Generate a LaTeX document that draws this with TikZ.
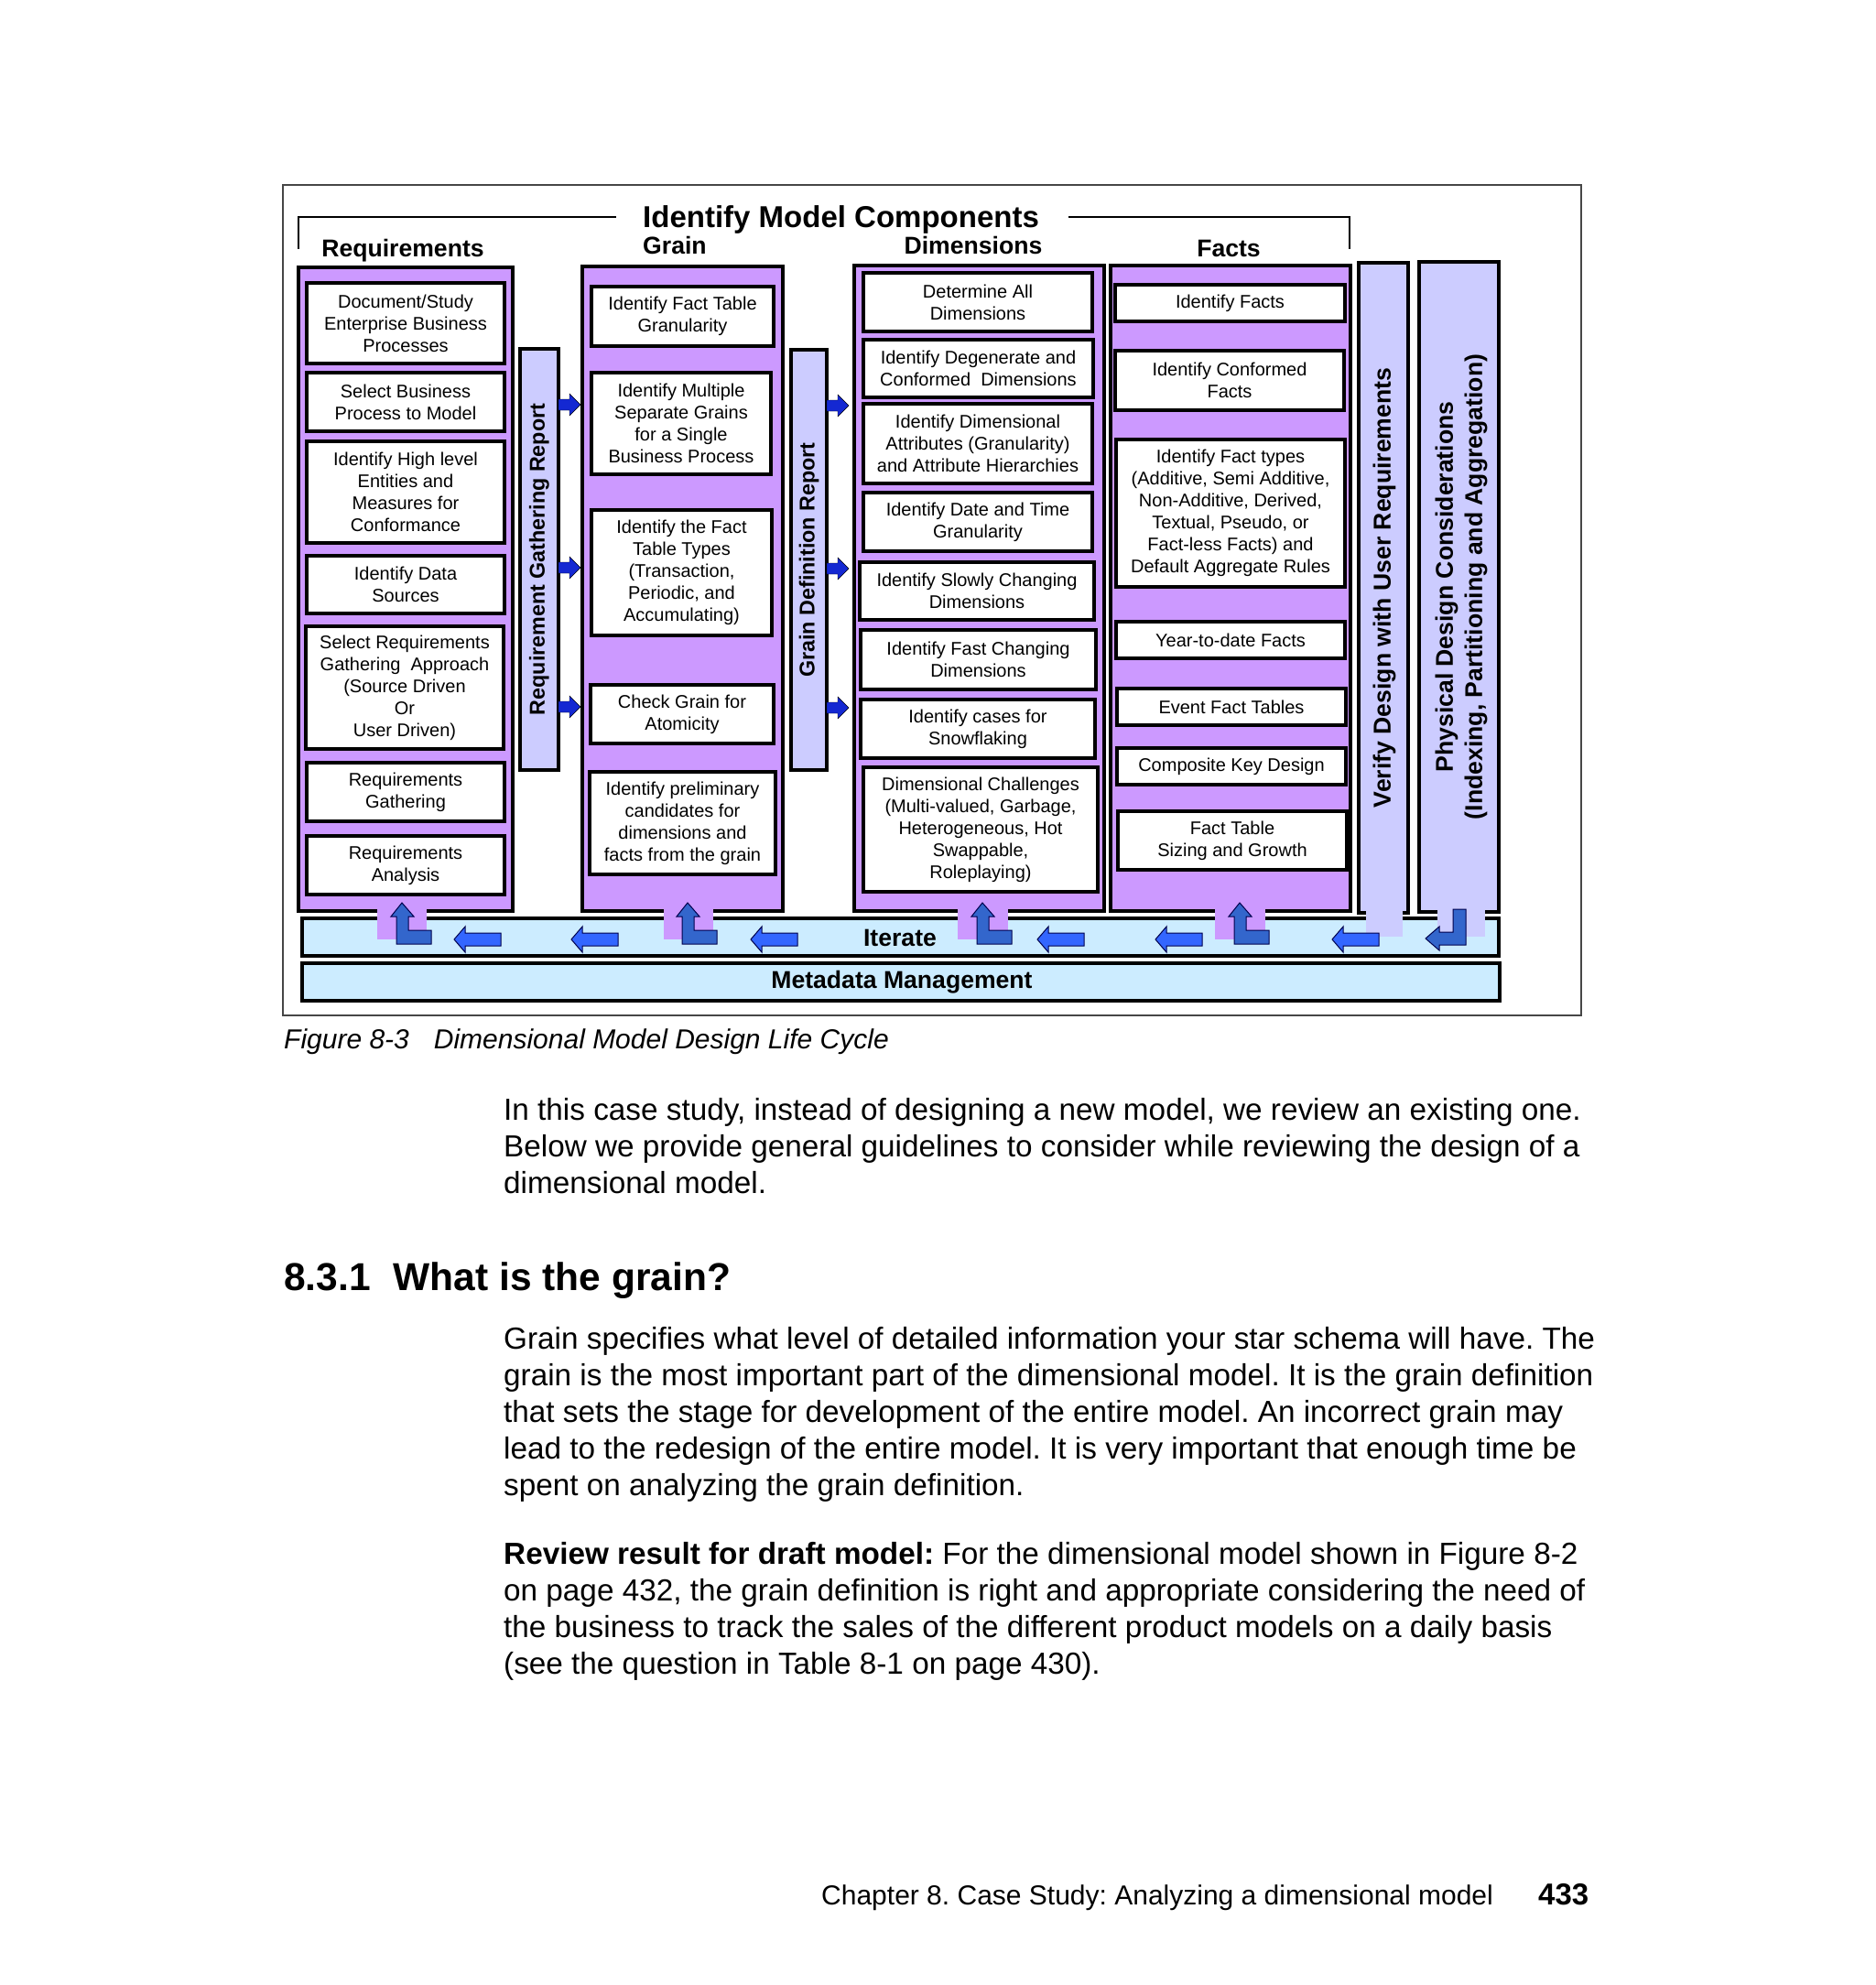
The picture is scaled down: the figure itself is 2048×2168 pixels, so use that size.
\documentclass[tikz,border=0pt]{standalone}
\usepackage{fontspec}
\setmainfont{Liberation Sans}
\frenchspacing
\definecolor{panelc}{RGB}{204,153,255}
\definecolor{barc}{RGB}{204,204,255}
\definecolor{itc}{RGB}{204,236,255}
\definecolor{larrowc}{RGB}{51,102,255}
\definecolor{darrowc}{RGB}{51,102,204}
\definecolor{rarrowc}{RGB}{20,40,210}
\definecolor{framec}{RGB}{70,70,70}
\newcommand\rnode[7]{\node[#1, inner sep=0pt, minimum width={#5-#3}, minimum height={#6-#4}] (#2) at ({(#3+#5)/2},{(#4+#6)/2}) {#7};}
\newcommand\uparr[1]{\draw[ularrow, shift={(#1,0)}] (12,986) -- (25,1001) -- (19,1001) -- (19,1016) -- (44,1016) -- (44,1031) -- (6,1031) -- (6,1001) -- (0,1001) -- cycle;}
\newcommand\leftarr[1]{\draw[lfarrow, shift={(#1,1026)}] (0,0) -- (12,-14) -- (12,-7) -- (51,-7) -- (51,7) -- (12,7) -- (12,14) -- cycle;}
\newcommand\rightarr[2]{\draw[rtarrow, shift={(#1,#2)}] (0,-6) -- (12,-6) -- (12,-12) -- (24,0) -- (12,12) -- (12,6) -- (0,6) -- cycle;}
\begin{document}
\begin{tikzpicture}[x=1pt,y=-1pt,
  panel/.style={draw=black, line width=4pt, fill=panelc},
  box/.style={draw=black, line width=3.5pt, fill=white, align=center, font=\fontsize{20}{24}\selectfont},
  vbar/.style={draw=black, line width=3.5pt, fill=barc},
  hbar/.style={draw=black, line width=3.5pt, fill=itc},
  vlabel/.style={rotate=90, align=center, font=\bfseries\fontsize{23.3}{28}\selectfont},
  vlabelbig/.style={rotate=90, align=center, font=\bfseries\fontsize{26.6}{32}\selectfont},
  head/.style={anchor=base, font=\bfseries\fontsize{26.6}{32}\selectfont},
  ularrow/.style={draw=black!70!blue, line width=1pt, fill=darrowc},
  lfarrow/.style={draw=black!70!blue, line width=1pt, fill=larrowc},
  rtarrow/.style={fill=rarrowc},
  bodytext/.style={anchor=base west, align=left, inner sep=0pt, font=\fontsize{33.3}{40}\selectfont},
]
\useasboundingbox (0,0) rectangle (2048,2168);
\fill[white] (0,0) rectangle (2048,2168);

% outer frame
\draw[framec, line width=1.6pt] (309,202) rectangle (1727,1109);

% bracket and title
\coordinate (brl) at (326,272);
\coordinate (brr) at (1474,272);
\node[anchor=base west, inner sep=0pt, font=\bfseries\fontsize{33}{40}\selectfont] (title) at (702,248) {Identify Model Components};
\draw[black, line width=2pt] (brl) |- (673,237);
\draw[black, line width=2pt] (1167,237) -| (brr);

% headers
\node[head] (hreq) at (440,280) {Requirements};
\node[head, anchor=base west, inner sep=0pt] (hgrain) at (702,277) {Grain};
\node[head] (hdim) at (1063,277) {Dimensions};
\node[head] (hfact) at (1342,280) {Facts};

% panels
\rnode{panel}{reqp}{326}{292}{560}{995}{}
\rnode{panel}{grp}{636}{291}{855}{995}{}
\rnode{panel}{dimp}{933}{290}{1206}{995}{}
\rnode{panel}{factp}{1213}{290}{1475}{995}{}

% requirement boxes
\rnode{box}{r1}{335}{309}{551}{397}{Document/Study\\Enterprise Business\\Processes}
\rnode{box}{r2}{335}{407}{551}{471}{Select Business\\Process to Model}
\rnode{box}{r3}{335}{482}{551}{593}{Identify High level\\Entities and\\Measures for\\Conformance}
\rnode{box}{r4}{335}{607}{551}{670}{Identify Data\\Sources}
\rnode{box}{r5}{334}{684}{550}{818}{Select Requirements\\Gathering\ \ Approach\\(Source Driven\\Or\\User Driven)}
\rnode{box}{r6}{335}{833}{551}{897}{Requirements\\Gathering}
\rnode{box}{r7}{335}{913}{551}{977}{Requirements\\Analysis}

% grain boxes
\rnode{box}{g1}{646}{313}{845}{378}{Identify Fact Table\\Granularity}
\rnode{box}{g2}{646}{407}{842}{518}{Identify Multiple\\Separate Grains\\for a Single\\Business Process}
\rnode{box}{g3}{646}{557}{843}{694}{Identify the Fact\\Table Types\\(Transaction,\\Periodic, and\\Accumulating)}
\rnode{box}{g4}{645}{748}{845}{812}{Check Grain for\\Atomicity}
\rnode{box}{g5}{644}{843}{847}{955}{Identify preliminary\\candidates for\\dimensions and\\facts from the grain}

% dimension boxes
\rnode{box}{d1}{943}{298}{1193}{362}{Determine All\\Dimensions}
\rnode{box}{d2}{943}{371}{1194}{434}{Identify Degenerate and\\Conformed\ \ Dimensions}
\rnode{box}{d3}{943}{441}{1193}{528}{Identify Dimensional\\Attributes (Granularity)\\and Attribute Hierarchies}
\rnode{box}{d4}{943}{538}{1193}{602}{Identify Date and Time\\Granularity}
\rnode{box}{d5}{939}{614}{1195}{677}{Identify Slowly Changing\\Dimensions}
\rnode{box}{d6}{940}{688}{1197}{753}{Identify Fast Changing\\Dimensions}
\rnode{box}{d7}{940}{764}{1196}{828}{Identify cases for\\Snowflaking}
\rnode{box}{d8}{943}{838}{1199}{974}{Dimensional Challenges\\(Multi-valued, Garbage,\\Heterogeneous, Hot\\Swappable,\\Roleplaying)}

% fact boxes
\rnode{box}{f1}{1218}{311}{1469}{351}{Identify Facts}
\rnode{box}{f2}{1218}{383}{1468}{448}{Identify Conformed\\Facts}
\rnode{box}{f3}{1219}{480}{1469}{641}{Identify Fact types\\(Additive, Semi Additive,\\Non-Additive, Derived,\\Textual, Pseudo, or\\Fact-less Facts) and\\Default Aggregate Rules}
\rnode{box}{f4}{1219}{679}{1469}{719}{Year-to-date Facts}
\rnode{box}{f5}{1220}{752}{1470}{792}{Event Fact Tables}
\rnode{box}{f6}{1220}{817}{1470}{857}{Composite Key Design}
\rnode{box}{f7}{1221}{886}{1471}{950}{Fact Table\\Sizing and Growth}

% vertical bars
\rnode{vbar}{rgr}{568}{381}{610}{841}{}
\rnode{vbar}{gdr}{864}{382}{903}{841}{}
\rnode{vbar}{vdb}{1484}{287}{1538}{997}{}
\rnode{vbar}{pdb}{1550}{286}{1637}{996}{}
\node[vlabel] (rgrl) at (rgr.center) {Requirement Gathering Report};
\node[vlabel] (gdrl) at (gdr.center) {Grain Definition Report};
\node[vlabelbig] (vdbl) at (1512,642) {Verify Design with User Requirements};
\node[vlabelbig] (pdbl) at (1596,641) {Physical Design Considerations\\(Indexing, Partitioning and Aggregation)};

% report arrows
\rightarr{610}{442}
\rightarr{610}{620}
\rightarr{610}{772}
\rightarr{903}{443}
\rightarr{903}{621}
\rightarr{903}{773}

% iterate and metadata bars
\rnode{hbar}{iter}{330}{1003}{1637}{1044}{}
\rnode{hbar}{meta}{330}{1052}{1638}{1093}{}
\node[font=\bfseries\fontsize{26.6}{32}\selectfont] (iterl) at (983,1024) {Iterate};
\node[font=\bfseries\fontsize{26.6}{32}\selectfont] (metal) at (985,1073) {Metadata Management};

% tabs
\fill[panelc] (412,990) rectangle (466,1026);
\fill[panelc] (725,990) rectangle (779,1026);
\fill[panelc] (1046,990) rectangle (1101,1026);
\fill[panelc] (1327,990) rectangle (1382,1026);
\fill[barc] (1492,992) rectangle (1532,1023);
\fill[barc] (1570,991) rectangle (1622,1023);

% iterate arrows
\uparr{427}
\uparr{739}
\uparr{1061}
\uparr{1342}
\leftarr{496}
\leftarr{624}
\leftarr{820}
\leftarr{1133}
\leftarr{1262}
\leftarr{1455}
\draw[ularrow] (1601,993) -- (1601,1032) -- (1572,1032) -- (1572,1038) -- (1557,1025) -- (1572,1012) -- (1572,1018) -- (1587,1018) -- (1587,993) -- cycle;

% page text
\node[anchor=base west, inner sep=0pt, font=\itshape\fontsize{30}{36}\selectfont] (caption) at (310,1145) {Figure 8-3\hspace{27pt}Dimensional Model Design Life Cycle};

\node[bodytext] (p1) at (550,1303) {In this case study, instead of designing a new model, we review an existing one.\\Below we provide general guidelines to consider while reviewing the design of a\\dimensional model.};

\node[anchor=base west, inner sep=0pt, font=\bfseries\fontsize{42.5}{50}\selectfont] (sec) at (310,1409) {8.3.1\hspace{25pt}What is the grain?};

\node[bodytext] (p2) at (550,1633) {Grain specifies what level of detailed information your star schema will have. The\\grain is the most important part of the dimensional model. It is the grain definition\\that sets the stage for development of the entire model. An incorrect grain may\\lead to the redesign of the entire model. It is very important that enough time be\\spent on analyzing the grain definition.};

\node[bodytext] (p3) at (550,1828) {\textbf{Review result for draft model:} For the dimensional model shown in Figure 8-2\\on page 432, the grain definition is right and appropriate considering the need of\\the business to track the sales of the different product models on a daily basis\\(see the question in Table 8-1 on page 430).};

\node[anchor=base west, inner sep=0pt, font=\fontsize{30}{36}\selectfont] (foot) at (897,2080) {Chapter 8. Case Study: Analyzing a dimensional model};
\node[anchor=base west, inner sep=0pt, font=\bfseries\fontsize{33}{40}\selectfont] (pnum) at (1680,2080) {433};
\end{tikzpicture}
\end{document}
